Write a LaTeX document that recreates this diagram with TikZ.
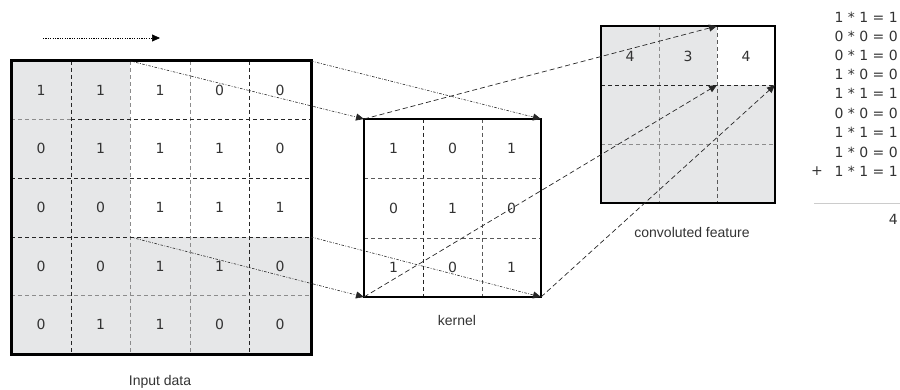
\documentclass[tikz,border=0pt]{standalone}
\usepackage{fontspec}
\setmainfont{Liberation Sans}
\newfontfamily\digitfont{DejaVu Sans}
\usetikzlibrary{arrows.meta}

\definecolor{cellgray}{HTML}{E6E7E8}
\definecolor{inkdark}{HTML}{333333}

\begin{document}
\begin{tikzpicture}[x=1pt,y=-1pt,
  gridline/.style={dash pattern=on 4pt off 3pt, line width=0.8pt, draw=black!85},
  gridlight/.style={gridline, draw=black!45},
  gridmid/.style={gridline, draw=black!65},
  thickframe/.style={draw=black, line width=3pt},
  frame/.style={draw=black, line width=1.8pt},
  num/.style={font=\digitfont\fontsize{14}{16}\selectfont, text=inkdark, inner sep=0pt},
  eq/.style={font=\digitfont\fontsize{14}{16}\selectfont, text=inkdark, anchor=east, inner sep=0pt},
  caption/.style={font=\fontsize{14}{16}\selectfont, text=black!80, inner sep=0pt},
  tip/.style={-{Triangle[length=8pt,width=7pt]}},
  flow/.style={tip, dash pattern=on 2.5pt off 1.5pt on 0.8pt off 1.5pt, line width=0.6pt, draw=black!85},
  proj/.style={tip, dash pattern=on 5pt off 3pt, line width=0.7pt, draw=black!85},
  slide/.style={tip, dash pattern=on 1.2pt off 1.2pt, line width=0.7pt}
]
\useasboundingbox (0,0) rectangle (900,390);

% ---------------- input data (5 x 5) ----------------
\fill[cellgray] (11,61) rectangle (130,354);
\fill[cellgray] (130,237) rectangle (311,354);
\draw[gridline]  (71,61) -- (71,354);
\draw[gridlight] (130,61) -- (130,354);
\draw[gridlight] (190,61) -- (190,354);
\draw[gridline]  (249,61) -- (249,354);
\draw[gridlight] (11,119) -- (71,119);
\draw[gridline]  (71,119) -- (311,119);
\draw[gridline]  (11,178) -- (311,178);
\draw[gridline]  (11,237) -- (311,237);
\draw[gridlight] (11,295) -- (311,295);
\draw[thickframe] (11,61) rectangle (311,354);

\def\incx{{41,100.5,160,219.5,280}}
\def\incy{{90,148.5,207.5,266,324.5}}
\foreach \vals [count=\r] in {{1,1,1,0,0},{0,1,1,1,0},{0,0,1,1,1},{0,0,1,1,0},{0,1,1,0,0}} {
  \foreach \v [count=\c] in \vals {
    \pgfmathsetmacro\xx{\incx[\c-1]}
    \pgfmathsetmacro\yy{\incy[\r-1]}
    \node[num] (in-\r-\c) at (\xx,\yy) {\v};
  }
}

% ---------------- kernel (3 x 3) ----------------
\draw[gridline] (423,119) -- (423,297);
\draw[gridmid]  (482,119) -- (482,297);
\draw[gridmid]  (364,178) -- (541,178);
\draw[gridmid]  (364,238) -- (541,238);
\draw[frame] (364,119) rectangle (541,297);

\def\kx{{393.5,452.5,511.5}}
\def\ky{{148.5,208,267.5}}
\foreach \vals [count=\r] in {{1,0,1},{0,1,0},{1,0,1}} {
  \foreach \v [count=\c] in \vals {
    \pgfmathsetmacro\xx{\kx[\c-1]}
    \pgfmathsetmacro\yy{\ky[\r-1]}
    \node[num] (k-\r-\c) at (\xx,\yy) {\v};
  }
}

% ---------------- convoluted feature (3 x 3) ----------------
\fill[cellgray] (601,26) rectangle (775,203);
\fill[white] (717,26) rectangle (775,85);
\draw[gridlight] (659,26) -- (659,203);
\draw[gridmid]   (717,26) -- (717,203);
\draw[gridline]  (601,85) -- (775,85);
\draw[gridlight] (601,144) -- (775,144);
\draw[frame] (601,26) rectangle (775,203);

\node[num] (f-1) at (630,56) {4};
\node[num] (f-2) at (688,56) {3};
\node[num] (f-3) at (746,56) {4};

% ---------------- captions ----------------
\node[caption] (cap-in) at (160,382) {Input data};
\node[caption] (cap-k) at (457,320) {kernel};
\node[caption] (cap-f) at (692,232) {convoluted feature};

% ---------------- element-wise products ----------------
\node[eq] (p1) at (898,17)  {1 * 1 = 1};
\node[eq] (p2) at (898,36)  {0 * 0 = 0};
\node[eq] (p3) at (898,55)  {0 * 1 = 0};
\node[eq] (p4) at (898,74)  {1 * 0 = 0};
\node[eq] (p5) at (898,93)  {1 * 1 = 1};
\node[eq] (p6) at (898,113) {0 * 0 = 0};
\node[eq] (p7) at (898,132) {1 * 1 = 1};
\node[eq] (p8) at (898,152) {1 * 0 = 0};
\node[eq] (p9) at (898,171) {1 * 1 = 1};
\node[eq, anchor=center] (plus) at (817,171) {+};
\coordinate (rule-l) at (814,203);
\coordinate (rule-r) at (900,203);
\draw[black!20, line width=0.8pt] (rule-l) -- (rule-r);
\node[eq] (total) at (898,219) {4};

% ---------------- connectors ----------------
\coordinate (dir-s) at (43,38);
\coordinate (dir-e) at (160,38);
\coordinate (win-nw) at (130,61);
\coordinate (win-ne) at (311,61);
\coordinate (win-sw) at (130,237);
\coordinate (win-se) at (311,237);
\coordinate (k-nw) at (364,119);
\coordinate (k-ne) at (541,119);
\coordinate (k-sw) at (364,297);
\coordinate (k-se) at (541,297);
\coordinate (f-a) at (717,26);
\coordinate (f-b) at (717,85);
\coordinate (f-c) at (775,85);

\draw[slide] (dir-s) -- (dir-e);
\draw[flow] (win-nw) -- (k-nw);
\draw[flow] (win-ne) -- (k-ne);
\draw[flow] (win-sw) -- (k-sw);
\draw[flow] (win-se) -- (k-se);
\draw[proj] (k-nw) -- (f-a);
\draw[proj] (k-sw) -- (f-b);
\draw[proj] (k-se) -- (f-c);
\end{tikzpicture}
\end{document}
